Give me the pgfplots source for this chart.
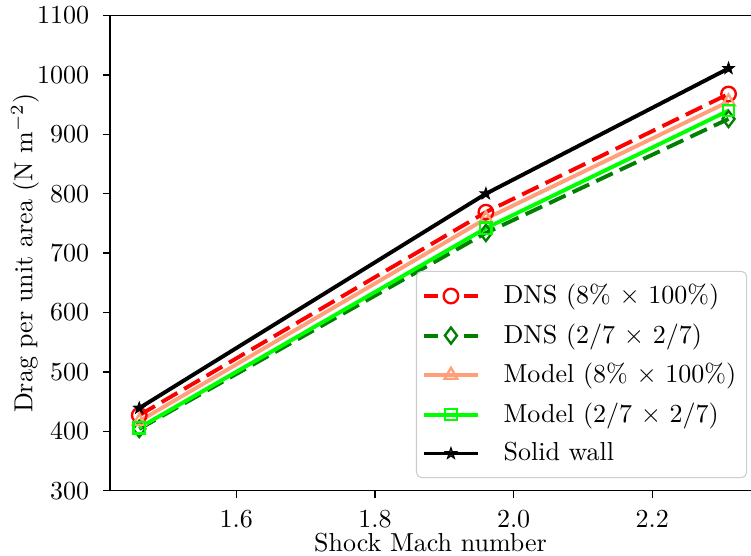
\documentclass[border=0pt]{standalone}
\usepackage{pgfplots}
\pgfplotsset{compat=1.18}
\definecolor{dnsgreen}{RGB}{0,128,0}
\definecolor{lsalmon}{RGB}{255,160,122}
\definecolor{limeg}{RGB}{0,255,0}
\pgfdeclareplotmark{fstar}{%
  \pgfpathmoveto{\pgfpointpolar{90}{\pgfplotmarksize}}%
  \pgfpathlineto{\pgfpointpolar{126}{0.4\pgfplotmarksize}}%
  \pgfpathlineto{\pgfpointpolar{162}{\pgfplotmarksize}}%
  \pgfpathlineto{\pgfpointpolar{198}{0.4\pgfplotmarksize}}%
  \pgfpathlineto{\pgfpointpolar{234}{\pgfplotmarksize}}%
  \pgfpathlineto{\pgfpointpolar{270}{0.4\pgfplotmarksize}}%
  \pgfpathlineto{\pgfpointpolar{306}{\pgfplotmarksize}}%
  \pgfpathlineto{\pgfpointpolar{342}{0.4\pgfplotmarksize}}%
  \pgfpathlineto{\pgfpointpolar{18}{\pgfplotmarksize}}%
  \pgfpathlineto{\pgfpointpolar{54}{0.4\pgfplotmarksize}}%
  \pgfpathclose
  \pgfusepathqfillstroke}
\pgfplotsset{
  dashedleg/.style={legend image code/.code={%
    \draw[##1, dash pattern=on 5.5pt off 10pt on 5.5pt, mark=none] (0pt,0pt) -- (21pt,0pt);
    \draw[##1, mark repeat=2, mark phase=2, draw=none] plot coordinates {(0pt,0pt) (10.5pt,0pt) (21pt,0pt)};}},
}
\begin{document}
\begin{tikzpicture}
\begin{axis}[
  scale only axis,
  width=246.5pt, height=182.7pt,
  xmin=1.4178, xmax=2.3424,
  ymin=300, ymax=1100,
  axis x line*=bottom, axis y line*=left,
  axis line style={line width=0.5pt},
  tick align=outside,
  major tick length=2.7pt,
  tick style={line width=0.5pt, black},
  xtick={1.6,1.8,2.0,2.2},
  ytick={300,400,...,1100},
  xticklabel style={yshift=-1.3pt, /pgf/number format/.cd, fixed, fixed zerofill, precision=1},
  yticklabel style={xshift=-1.8pt, /pgf/number format/.cd, fixed, 1000 sep={}},
  xlabel={Shock Mach number},
  ylabel={Drag per unit area (N m$^{-2}$)},
  every axis y label/.style={at={(axis description cs:-0.1327,0.5)}, rotate=90, anchor=center},
  every axis x label/.style={at={(axis description cs:0.5,-0.11)}, anchor=center, inner sep=1pt},
  legend cell align=left,
  legend style={at={(1,0)}, anchor=south east, xshift=-1.5pt, yshift=4.8pt,
    draw=black!20, rounded corners=2pt, fill=white, fill opacity=0.8, text opacity=1,
    row sep=2.2pt, inner xsep=2pt, inner ysep=3pt,
    /tikz/every odd column/.append style={column sep=7pt}},
  legend image code/.code={\draw[mark repeat=2,mark phase=2,#1] plot coordinates {(0pt,0pt) (10.5pt,0pt) (21pt,0pt)};},
]
\addplot[red, line width=1.5pt, dash pattern=on 7pt off 3pt, mark=o, mark size=2.8pt, mark options={solid, line width=0.9pt}, dashedleg]
  coordinates {(1.46,427) (1.96,769) (2.31,968)};
\addlegendentry{DNS (8\% $\times$ 100\%)}
\addplot[dnsgreen, line width=1.5pt, dash pattern=on 7pt off 3pt, mark=diamond, mark size=3.1pt, mark options={solid, line width=0.9pt}, dashedleg]
  coordinates {(1.46,404) (1.96,734) (2.31,926)};
\addlegendentry{DNS (2/7 $\times$ 2/7)}
\addplot[lsalmon, line width=1.5pt, mark=triangle, mark size=2.8pt, mark options={solid, line width=0.9pt}]
  coordinates {(1.46,417) (1.96,758) (2.31,955)};
\addlegendentry{Model (8\% $\times$ 100\%)}
\addplot[limeg, line width=1.5pt, mark=square, mark size=2.2pt, mark options={solid, line width=0.9pt}]
  coordinates {(1.46,406) (1.96,742) (2.31,940)};
\addlegendentry{Model (2/7 $\times$ 2/7)}
\addplot[black, line width=1.5pt, mark=fstar, mark size=2.3pt, mark options={solid, line width=0.4pt, fill=black}]
  coordinates {(1.46,439) (1.96,800) (2.31,1011)};
\addlegendentry{Solid wall}
\end{axis}
\draw[line width=0.5pt] (current axis.north west) -- (current axis.north east);
\pgfresetboundingbox
\path (current axis.south west) ++(-42.3pt,-25pt) coordinate (bbA);
\path (current axis.north east) ++(0pt,6pt) coordinate (bbB);
\useasboundingbox (bbA) rectangle (bbB);
\end{tikzpicture}
\end{document}
